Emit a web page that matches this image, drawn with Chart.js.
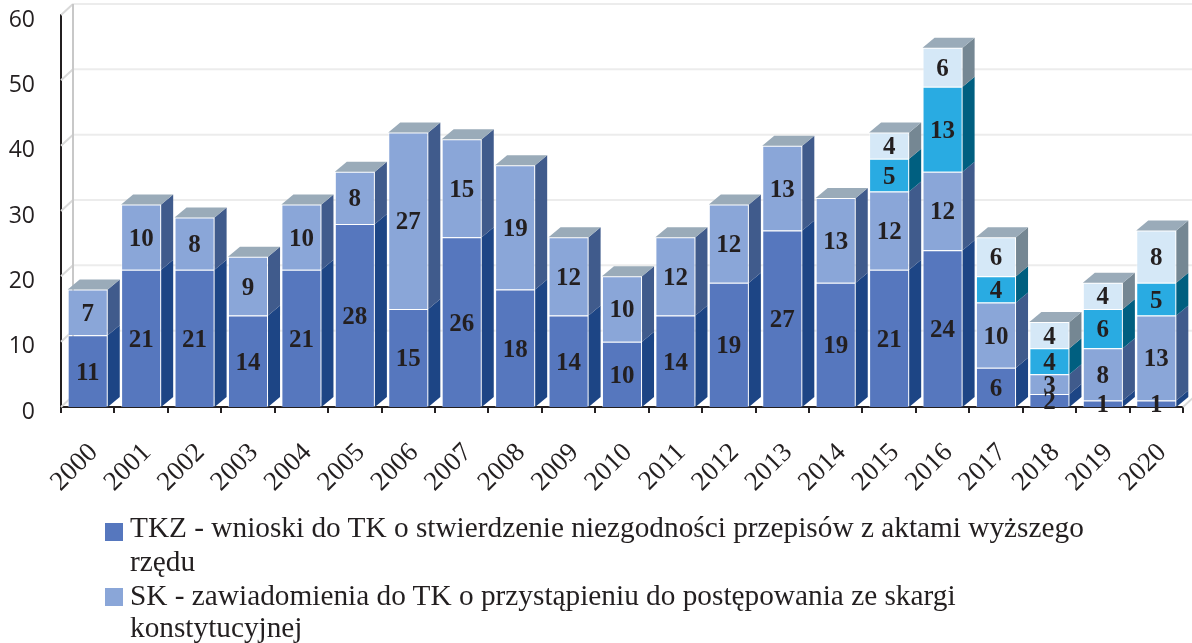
<!DOCTYPE html>
<html>
<head>
<meta charset="utf-8">
<script src="https://cdn.jsdelivr.net/npm/chart.js@4.4.1/dist/chart.umd.min.js"></script>
<style>
  html, body { margin: 0; padding: 0; background: #fff; }
  #wrap { position: relative; width: 1192px; height: 643px; overflow: hidden; }
  #chart { position: absolute; left: 0; top: 0; }
  .lg { position: absolute; font-family: "Liberation Serif", "Times New Roman", serif; font-size: 29.3px; line-height: 29px; color: #231f20; white-space: nowrap; }
  .mk { position: absolute; width: 18px; height: 18px; }
</style>
</head>
<body>
<div id="wrap">
  <canvas id="chart" width="1192" height="643"></canvas>
  <div class="mk" style="left:105px;top:523px;background:#5677be"></div>
  <div class="lg" style="left:130px;top:513px">TKZ - wnioski do TK o stwierdzenie niezgodności przepisów z aktami wyższego</div>
  <div class="lg" style="left:130px;top:547px">rzędu</div>
  <div class="mk" style="left:105px;top:588px;background:#8aa6d8"></div>
  <div class="lg" style="left:130px;top:581px">SK - zawiadomienia do TK o przystąpieniu do postępowania ze skargi</div>
  <div class="lg" style="left:130px;top:613px">konstytucyjnej</div>
</div>
<script>
const years = ['2000','2001','2002','2003','2004','2005','2006','2007','2008','2009','2010',
               '2011','2012','2013','2014','2015','2016','2017','2018','2019','2020'];
const tkz   = [11, 21, 21, 14, 21, 28, 15, 26, 18, 14, 10, 14, 19, 27, 19, 21, 24, 6, 2, 1, 1];
const sk    = [7, 10, 8, 9, 10, 8, 27, 15, 19, 12, 10, 12, 12, 13, 13, 12, 12, 10, 3, 8, 13];
const seria3 = [null, null, null, null, null, null, null, null, null, null, null,
                null, null, null, null, 5, 13, 4, 4, 6, 5];
const seria4 = [null, null, null, null, null, null, null, null, null, null, null,
                null, null, null, null, 4, 6, 6, 4, 4, 8];
const yTicks = [0, 10, 20, 30, 40, 50, 60];

// 3D depth of bars and back wall
const DX = 12, DY = -10, GDY = -11;
const sideColors = ['#1d4585', '#405b8c', '#005f80', '#758793'];
const topColor = '#9aabb9';

const threeD = {
  id: 'threeD',
  beforeDatasetsDraw(chart) {
    const ctx = chart.ctx, area = chart.chartArea, y = chart.scales.y;
    ctx.save();
    ctx.lineWidth = 2;
    // back wall grid
    yTicks.forEach(v => {
      const py = y.getPixelForValue(v);
      ctx.strokeStyle = '#d9d9d9';
      ctx.beginPath();
      ctx.moveTo(area.left, py);
      ctx.lineTo(area.left + DX, py + GDY);
      ctx.stroke();
      if (v > 0) {
        ctx.strokeStyle = '#ececec';
        ctx.beginPath();
        ctx.moveTo(area.left + DX, py + GDY);
        ctx.lineTo(area.right + DX, py + GDY);
        ctx.stroke();
      }
    });
    ctx.strokeStyle = '#c8c8c8';
    ctx.beginPath();
    ctx.moveTo(area.left + DX, y.getPixelForValue(60) + GDY);
    ctx.lineTo(area.left + DX, area.bottom + GDY);
    ctx.stroke();
    ctx.strokeStyle = '#d9d9d9';
    ctx.beginPath();
    ctx.moveTo(area.right, area.bottom);
    ctx.lineTo(area.right + DX, area.bottom + GDY);
    ctx.stroke();
    ctx.restore();
  },
  afterDatasetsDraw(chart) {
    const ctx = chart.ctx;
    const metas = chart.data.datasets.map((d, i) => chart.getDatasetMeta(i));
    ctx.save();
    // side faces
    metas.forEach((meta, di) => {
      meta.data.forEach((el, i) => {
        if (chart.data.datasets[di].data[i] == null) return;
        const p = el.getProps(['x', 'y', 'base', 'width'], true);
        const xr = p.x + p.width / 2;
        ctx.fillStyle = sideColors[di];
        ctx.beginPath();
        ctx.moveTo(xr, p.y);
        ctx.lineTo(xr + DX, p.y + DY);
        ctx.lineTo(xr + DX, p.base + DY);
        ctx.lineTo(xr, p.base);
        ctx.closePath();
        ctx.fill();
      });
    });
    // top faces
    years.forEach((yr, i) => {
      let top = -1;
      chart.data.datasets.forEach((d, di) => { if (d.data[i] != null) top = di; });
      const p = metas[top].data[i].getProps(['x', 'y', 'base', 'width'], true);
      const xl = p.x - p.width / 2, xr = p.x + p.width / 2;
      ctx.fillStyle = topColor;
      ctx.beginPath();
      ctx.moveTo(xl, p.y);
      ctx.lineTo(xl + DX, p.y + DY);
      ctx.lineTo(xr + DX, p.y + DY);
      ctx.lineTo(xr, p.y);
      ctx.closePath();
      ctx.fill();
    });
    // value labels
    ctx.font = 'bold 25px "Liberation Serif", "Times New Roman", serif';
    ctx.fillStyle = '#231f20';
    ctx.textAlign = 'center';
    ctx.textBaseline = 'middle';
    metas.forEach((meta, di) => {
      meta.data.forEach((el, i) => {
        const v = chart.data.datasets[di].data[i];
        if (v == null) return;
        const p = el.getProps(['x', 'y', 'base'], true);
        ctx.fillText(String(v), p.x, (p.y + p.base) / 2 + 2);
      });
    });
    ctx.restore();
  }
};

new Chart(document.getElementById('chart'), {
  type: 'bar',
  data: {
    labels: years,
    datasets: [
      { label: 'TKZ - wnioski do TK o stwierdzenie niezgodności przepisów z aktami wyższego rzędu', data: tkz, backgroundColor: '#5677be' },
      { label: 'SK - zawiadomienia do TK o przystąpieniu do postępowania ze skargi konstytucyjnej', data: sk, backgroundColor: '#8aa6d8' },
      { label: 'seria 3', data: seria3, backgroundColor: '#29abe2' },
      { label: 'seria 4', data: seria4, backgroundColor: '#d5e8f7' }
    ].map(d => Object.assign(d, {
      borderColor: 'rgba(255,255,255,0.45)', borderWidth: 1,
      barPercentage: 0.75, categoryPercentage: 1
    }))
  },
  options: {
    responsive: false,
    animation: false,
    events: [],
    layout: { autoPadding: false, padding: { top: 15, right: 9, left: 0, bottom: 0 } },
    plugins: { legend: { display: false }, tooltip: { enabled: false } },
    scales: {
      x: {
        stacked: true,
        grid: { display: true, drawOnChartArea: false, drawTicks: true, tickLength: 6, color: '#231f20', lineWidth: 2, offset: true },
        border: { display: true, color: '#231f20', width: 2 },
        ticks: {
          minRotation: 45, maxRotation: 45, autoSkip: false, padding: 24, labelOffset: 6,
          color: '#231f20',
          font: { family: '"Liberation Serif", "Times New Roman", serif', size: 27 }
        },
        afterFit(scale) {
          scale.height = 236;
          scale.paddingLeft = 0;
          scale.paddingRight = 0;
        }
      },
      y: {
        stacked: true,
        min: 0, max: 60,
        grid: { display: false, drawTicks: false },
        border: { display: true, color: '#231f20', width: 2 },
        ticks: {
          stepSize: 10, padding: 26, labelOffset: 5,
          color: '#231f20',
          font: { family: '"Open Sans", sans-serif', size: 23 }
        },
        afterFit(scale) {
          scale.width = 61;
          scale.paddingTop = 0;
          scale.paddingBottom = 0;
        }
      }
    }
  },
  plugins: [threeD]
});
</script>
</body>
</html>
